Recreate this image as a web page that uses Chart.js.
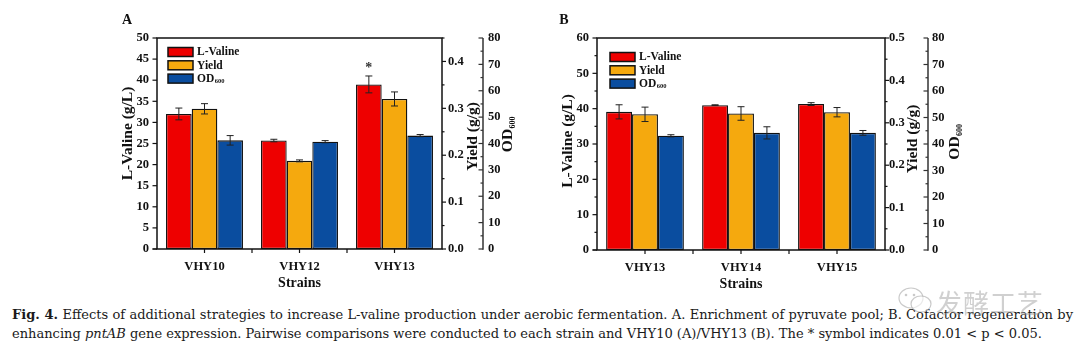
<!DOCTYPE html>
<html><head><meta charset="utf-8">
<script src="https://cdn.jsdelivr.net/npm/chart.js@4.4.0/dist/chart.umd.min.js"></script>
<style>
html,body{margin:0;padding:0;background:#fff;width:1080px;height:354px;overflow:hidden;position:relative;}
.panel{position:absolute;top:0;width:540px;height:295px;}
#pa{left:0}
#pb{left:540px}
.cap{position:absolute;left:12px;font-family:"DejaVu Serif","Liberation Serif",serif;font-size:12.5px;color:#1a1a1a;white-space:nowrap;line-height:16px;}
#cap1{top:307px;width:1061px;text-align:justify;text-align-last:justify;}
#cap2{top:326px;}
#wm{position:absolute;left:936px;top:283px;font-family:"Noto Sans CJK SC",sans-serif;font-size:26px;color:rgba(150,150,150,0.45);letter-spacing:1px;}
#wmicon{position:absolute;left:896px;top:285px;}
</style></head>
<body>
<div class="panel" id="pa"><canvas id="ca" width="540" height="295"></canvas></div>
<div class="panel" id="pb"><canvas id="cb" width="540" height="295"></canvas></div>
<div class="cap" id="cap1"><b>Fig. 4.</b> Effects of additional strategies to increase L-valine production under aerobic fermentation. A. Enrichment of pyruvate pool; B. Cofactor regeneration by</div>
<div class="cap" id="cap2">enhancing <i>pntAB</i> gene expression. Pairwise comparisons were conducted to each strain and VHY10 (A)/VHY13 (B). The * symbol indicates 0.01 &lt; p &lt; 0.05.</div>
<svg id="wmicon" width="40" height="30" viewBox="0 0 40 30"><ellipse cx="15" cy="13" rx="12" ry="10" fill="none" stroke="rgba(150,150,150,0.5)" stroke-width="1.2"/><ellipse cx="25" cy="19" rx="10" ry="8" fill="rgba(255,255,255,0.6)" stroke="rgba(150,150,150,0.5)" stroke-width="1.2"/><circle cx="10" cy="10" r="1.3" fill="rgba(150,150,150,0.5)"/><circle cx="18" cy="10" r="1.3" fill="rgba(150,150,150,0.5)"/></svg>
<div id="wm">发酵工艺</div>
<script>
// ---------- data ----------
const strainsA = ['VHY10', 'VHY12', 'VHY13'];
const valineA = [32.0, 25.7, 39.0];
const valineErrA = [1.4, 0.3, 2.0];
const yieldA = [0.299, 0.188, 0.320];
const yieldErrA = [0.011, 0.002, 0.015];
const odA = [41.2, 40.7, 43.0];
const odErrA = [1.8, 0.4, 0.4];
const sigA = ['', '', '*'];

const strainsB = ['VHY13', 'VHY14', 'VHY15'];
const valineB = [39.1, 41.0, 41.3];
const valineErrB = [2.0, 0.1, 0.4];
const yieldB = [0.320, 0.322, 0.325];
const yieldErrB = [0.017, 0.016, 0.011];
const odB = [43.1, 44.2, 44.2];
const odErrB = [0.4, 2.3, 0.9];
const sigB = ['', '', ''];

const seriesNames = ['L-Valine', 'Yield', 'OD'];
const seriesSub = ['', '', '600'];
const RED = '#EE0000', YEL = '#F5A90E', BLU = '#0A4D9F';
const SERIF = '"Liberation Serif","Times New Roman",serif';

// fit caption: line 2 should end near x=1043
(function fitCaption() {
  const c2 = document.getElementById('cap2'), c1 = document.getElementById('cap1');
  const target = 1031;
  const w = c2.getBoundingClientRect().width;
  const fs = 12.5 * target / w;
  c2.style.fontSize = fs + 'px';
  c1.style.fontSize = fs + 'px';
})();

function decoPlugin(p) {
  return {
    id: 'deco',
    afterDatasetsDraw(chart) {
      const c = chart.ctx;
      c.save();
      chart.data.datasets.forEach((ds, i) => {
        const meta = chart.getDatasetMeta(i);
        const sc = chart.scales[meta.yAxisID];
        meta.data.forEach((el, j) => {
          const v = ds.data[j], e = ds.err[j];
          const yh = sc.getPixelForValue(v + e), yl = sc.getPixelForValue(v - e);
          c.strokeStyle = '#222'; c.lineWidth = 1;
          c.beginPath();
          c.moveTo(el.x, yh); c.lineTo(el.x, yl);
          c.moveTo(el.x - 3.5, yh); c.lineTo(el.x + 3.5, yh);
          c.moveTo(el.x - 3.5, yl); c.lineTo(el.x + 3.5, yl);
          c.stroke();
          if (i === 0 && p.sig[j]) {
            c.fillStyle = '#333';
            c.font = 'bold 14px ' + SERIF;
            c.textAlign = 'center'; c.textBaseline = 'bottom';
            c.fillText(p.sig[j], el.x, yh - 1);
          }
        });
      });
      c.restore();
    },
    afterDraw(chart) {
      const c = chart.ctx, a = chart.chartArea;
      const sy = chart.scales.y, sy1 = chart.scales.y1, sy2 = chart.scales.y2, sx = chart.scales.x;
      c.save();
      c.strokeStyle = '#111';
      c.lineWidth = 1.5;
      c.strokeRect(a.left, a.top, a.right - a.left, a.bottom - a.top);
      c.lineWidth = 1.2;
      const line = (x1, y1, x2, y2) => { c.beginPath(); c.moveTo(x1, y1); c.lineTo(x2, y2); c.stroke(); };
      const isMajor = (v, st) => Math.abs(v / st - Math.round(v / st)) < 1e-6;
      for (let k = 0; k * p.vMinor <= sy.max + 1e-9; k++) {
        const v = k * p.vMinor, yy = sy.getPixelForValue(v);
        line(a.left, yy, a.left - (isMajor(v, p.vStep) ? 4.5 : 2.5), yy);
      }
      line(a.left - 4.5, a.bottom, a.left, a.bottom);
      for (let k = 0; k * 0.05 <= sy1.max + 1e-9; k++) {
        const v = k * 0.05, yy = sy1.getPixelForValue(v);
        line(a.right, yy, a.right + (isMajor(v, 0.1) ? 4 : 2.5), yy);
      }
      const ox = sy2.left;
      c.strokeStyle = '#333'; c.lineWidth = 1.5;
      line(ox, sy2.getPixelForValue(sy2.max), ox, sy2.getPixelForValue(0) + 0.7);
      c.lineWidth = 1.2;
      for (let k = 0; k * 5 <= sy2.max + 1e-9; k++) {
        const v = k * 5, yy = sy2.getPixelForValue(v);
        line(ox, yy, ox - (isMajor(v, 10) ? 4.5 : 2.5), yy);
      }
      c.strokeStyle = '#111';
      const n = chart.data.labels.length, cw = (a.right - a.left) / n;
      for (let i = 0; i < n; i++) {
        const cx = sx.getPixelForValue(i);
        line(cx, a.bottom, cx, a.bottom + 4);
        if (i > 0) line(cx - cw / 2, a.bottom, cx - cw / 2, a.bottom + 4);
      }
      c.fillStyle = '#111';
      const vtitle = (txt, x, y, sub) => {
        c.save(); c.translate(x, y); c.rotate(-Math.PI / 2);
        c.font = 'bold 15.5px ' + SERIF; c.textBaseline = 'middle';
        const w1 = c.measureText(txt).width;
        let w2 = 0;
        if (sub) { c.font = 'bold 8px ' + SERIF; w2 = c.measureText(sub).width; }
        const x0 = -(w1 + w2) / 2;
        c.font = 'bold 15.5px ' + SERIF; c.textAlign = 'left';
        c.fillText(txt, x0, 0);
        if (sub) { c.font = 'bold 8px ' + SERIF; c.fillText(sub, x0 + w1 + 0.5, 5); }
        c.restore();
      };
      const midY = (a.top + a.bottom) / 2;
      vtitle('L-Valine (g/L)', a.left - p.t0, midY + p.t0y, '');
      vtitle('Yield (g/g)', a.right + p.t1, midY + p.t1y, '');
      vtitle('OD', sy2.left + p.t2, midY + p.t2y, '600');
      c.font = 'bold 14px ' + SERIF; c.textAlign = 'center'; c.textBaseline = 'middle';
      c.fillText('Strains', (a.left + a.right) / 2, a.bottom + 34);
      c.font = 'bold 14px ' + SERIF; c.textAlign = 'center';
      c.fillText(p.letter, p.letterX, 20);
      chart.data.datasets.forEach((ds, i) => {
        const bx = p.legX, by = p.legY + i * 13.3;
        c.fillStyle = ds.backgroundColor;
        c.fillRect(bx, by, 25, 9);
        c.strokeStyle = '#111'; c.lineWidth = 1.5;
        c.strokeRect(bx, by, 25, 9);
        c.fillStyle = '#111';
        c.font = 'bold 11.5px ' + SERIF; c.textAlign = 'left'; c.textBaseline = 'middle';
        c.fillText(ds.label, bx + 29, by + 5);
        if (ds.sub) {
          const w = c.measureText(ds.label).width;
          c.font = 'bold 6.5px ' + SERIF;
          c.fillText(ds.sub, bx + 29 + w + 0.5, by + 7.5);
        }
      });
      c.restore();
    }
  };
}

function build(id, p) {
  const TF = { family: SERIF, size: 12.5, weight: 'bold' };
  return new Chart(document.getElementById(id), {
    type: 'bar',
    data: {
      labels: p.labels,
      datasets: [
        { label: seriesNames[0], data: p.valine, err: p.valineErr, yAxisID: 'y', backgroundColor: RED },
        { label: seriesNames[1], data: p.yld, err: p.yldErr, yAxisID: 'y1', backgroundColor: YEL },
        { label: seriesNames[2], sub: seriesSub[2], data: p.od, err: p.odErr, yAxisID: 'y2', backgroundColor: BLU }
      ]
    },
    options: {
      responsive: false, animation: false, devicePixelRatio: 1,
      layout: { padding: { top: p.top, left: 0, right: 0, bottom: 0 } },
      datasets: { bar: { categoryPercentage: 0.81, barPercentage: 1, borderColor: '#111', borderWidth: 1.3, borderSkipped: false } },
      plugins: { legend: { display: false }, tooltip: { enabled: false } },
      scales: {
        x: { grid: { display: false, drawTicks: false }, border: { display: false },
             ticks: { font: TF, color: '#111', padding: p.xPad, maxRotation: 0 },
             afterFit: s => { s.height = p.xH; } },
        y: { position: 'left', min: 0, max: p.vMax,
             ticks: { stepSize: p.vStep, font: TF, color: '#111', padding: 8 },
             grid: { display: false, drawTicks: false }, border: { display: false },
             afterFit: s => { s.width = p.yW; } },
        y1: { position: 'right', weight: 0, min: 0, max: p.yMax,
             ticks: { stepSize: 0.1, includeBounds: false, font: TF, color: '#111', padding: p.y1Pad,
                      callback: v => Number(v).toFixed(1) },
             grid: { display: false, drawTicks: false }, border: { display: false },
             afterFit: s => { s.width = p.y1W; } },
        y2: { position: 'right', weight: 1, min: 0, max: 80,
             ticks: { stepSize: 10, font: TF, color: '#111', padding: p.y2Pad },
             grid: { display: false, drawTicks: false }, border: { display: false },
             afterFit: s => { s.width = p.y2W; } }
      }
    },
    plugins: [decoPlugin(p)]
  });
}

build('ca', {
  labels: strainsA, valine: valineA, valineErr: valineErrA, yld: yieldA, yldErr: yieldErrA, od: odA, odErr: odErrA, sig: sigA,
  top: 38, xH: 46, yW: 157, y1W: 41, y2W: 57, vMax: 50, vStep: 5, vMinor: 5, yMax: 0.45,
  xPad: 10, y1Pad: 6, y2Pad: 5,
  t0: 29, t0y: -10, t1: 31, t1y: -7, t2: 25, t2y: -9,
  letter: 'A', letterX: 127, legX: 168, legY: 47.5
});
build('cb', {
  labels: strainsB, valine: valineB, valineErr: valineErrB, yld: yieldB, yldErr: yieldErrB, od: odB, odErr: odErrB, sig: sigB,
  top: 38, xH: 45, yW: 57, y1W: 43, y2W: 152, vMax: 60, vStep: 10, vMinor: 5, yMax: 0.5,
  xPad: 10, y1Pad: 4, y2Pad: 4,
  t0: 29, t0y: -3, t1: 28, t1y: -5, t2: 27, t2y: -2,
  letter: 'B', letterX: 24, legX: 70, legY: 52.5
});
</script>
</body></html>
